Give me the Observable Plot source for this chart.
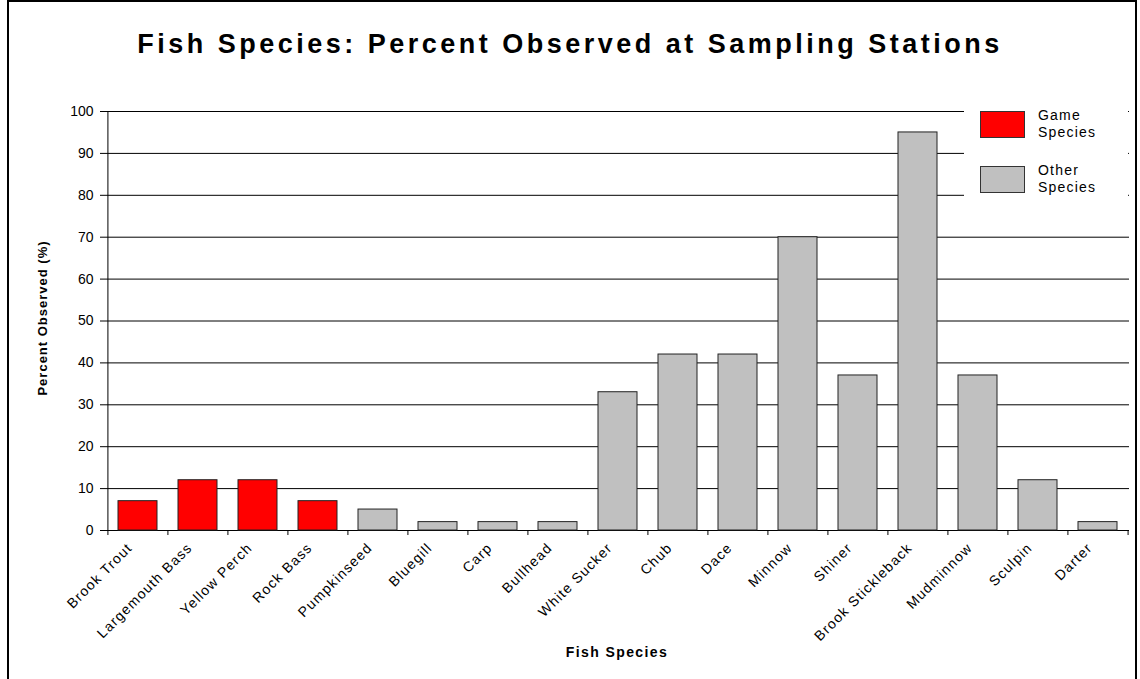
<!DOCTYPE html>
<html>
<head>
<meta charset="utf-8">
<script src="https://cdn.jsdelivr.net/npm/d3@7"></script>
<script src="https://cdn.jsdelivr.net/npm/@observablehq/plot@0.6"></script>
<style>
  html, body { margin: 0; padding: 0; background: #fff; }
  #wrap { position: relative; width: 1140px; height: 679px; overflow: hidden; font-family: "Liberation Sans", Arial, sans-serif; }
  #frame { position: absolute; left: 7px; top: 0; width: 1130px; height: 700px; border-left: 2px solid #000; border-top: 2px solid #000; border-right: 2px solid #000; box-sizing: border-box; pointer-events: none; }
  #title { position: absolute; left: 0; width: 1140px; top: 29px; text-align: center; font-weight: bold; font-size: 27px; letter-spacing: 3.5px; color: #000; }
  #ylabel { position: absolute; left: 42px; top: 318px; transform: translate(-50%, -50%) rotate(-90deg); font-weight: bold; font-size: 13px; letter-spacing: 1px; white-space: nowrap; }
  #xlabel { position: absolute; left: 617px; top: 644px; transform: translateX(-50%); font-weight: bold; font-size: 14px; letter-spacing: 1.4px; white-space: nowrap; }
  #legend { position: absolute; left: 964px; top: 100px; width: 164px; height: 112px; background: #fff; }
  .item { position: absolute; left: 16px; display: flex; align-items: flex-start; }
  .sw { width: 45px; height: 27px; border: 1px solid #333; box-sizing: border-box; }
  .lt { margin-left: 13px; margin-top: -4px; font-size: 14px; letter-spacing: 1.2px; line-height: 17px; color: #000; }
  svg { position: absolute; left: 0; top: 0; }
  g.xlab text { letter-spacing: 1.2px; }
</style>
</head>
<body>
<div id="wrap">
  <div id="chart"></div>
  <div id="frame"></div>
  <div id="title">Fish Species: Percent Observed at Sampling Stations</div>
  <div id="ylabel">Percent Observed (%)</div>
  <div id="xlabel">Fish Species</div>
  <div id="legend"></div>
</div>
<script>
const species = ["Brook Trout", "Largemouth Bass", "Yellow Perch", "Rock Bass", "Pumpkinseed", "Bluegill", "Carp", "Bullhead", "White Sucker", "Chub", "Dace", "Minnow", "Shiner", "Brook Stickleback", "Mudminnow", "Sculpin", "Darter"];
const percent = [7, 12, 12, 7, 5, 2, 2, 2, 33, 42, 42, 70, 37, 95, 37, 12, 2];
const groups = ["Game", "Game", "Game", "Game", "Other", "Other", "Other", "Other", "Other", "Other", "Other", "Other", "Other", "Other", "Other", "Other", "Other"];
const groupNames = ["Game", "Other"];
const groupLabels = ["Game\nSpecies", "Other\nSpecies"];
const groupColors = ["#ff0000", "#c0c0c0"];
const yTicks = [0, 10, 20, 30, 40, 50, 60, 70, 80, 90, 100];

const data = species.map((s, i) => ({species: s, value: percent[i], group: groups[i]}));

const W = 1140, H = 679, ML = 106, MR = 11, MT = 111, MB = 149;
const step = (W - ML - MR) / species.length;

const chart = Plot.plot({
  width: W, height: H,
  marginLeft: ML, marginRight: MR, marginTop: MT, marginBottom: MB,
  style: {fontFamily: "'Liberation Sans', Arial, sans-serif", background: "transparent", color: "#000"},
  x: {domain: species, paddingInner: 0.35, paddingOuter: 0.175, label: null},
  y: {domain: [0, 100], label: null},
  color: {domain: groupNames, range: groupColors},
  marks: [
    Plot.ruleY(yTicks, {stroke: "#000", strokeWidth: 1}),
    Plot.ruleX([species[0]], {dx: -step / 2, y1: 0, y2: 100, stroke: "#000", strokeWidth: 1}),
    Plot.barY(data, {x: "species", y: "value", fill: "group", stroke: "#222", strokeWidth: 1}),
    Plot.axisY({ticks: yTicks, tickSize: 6, tickPadding: 7, fontSize: 14, tickFormat: d => String(d), label: null, stroke: "#000"}),
    Plot.axisX({tickSize: 5, dx: -step / 2, text: null, label: null, stroke: "#000"}),
    Plot.axisX({ticks: [species[species.length - 1]], tickSize: 5, dx: step / 2, text: null, label: null, stroke: "#000"}),
    Plot.axisX({tickSize: 0, tickRotate: -45, tickPadding: 15, fontSize: 14, label: null, dx: -8, className: "xlab"})
  ]
});
document.getElementById("chart").appendChild(chart);

const legend = document.getElementById("legend");
groupNames.forEach((g, i) => {
  const item = document.createElement("div");
  item.className = "item";
  item.style.top = (i === 0 ? 11 : 66) + "px";
  const sw = document.createElement("div");
  sw.className = "sw";
  sw.style.background = groupColors[i];
  const lt = document.createElement("div");
  lt.className = "lt";
  lt.innerHTML = groupLabels[i].split("\n").join("<br>");
  item.appendChild(sw);
  item.appendChild(lt);
  legend.appendChild(item);
});
</script>
</body>
</html>
